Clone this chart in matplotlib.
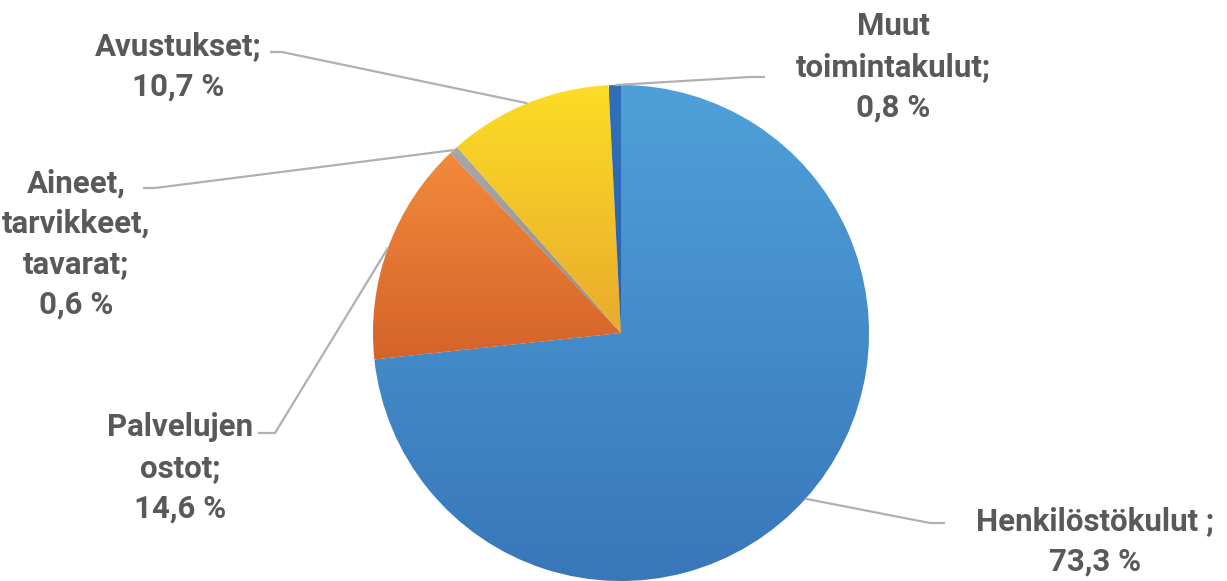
import numpy as np
import matplotlib
matplotlib.use("Agg")
import matplotlib.pyplot as plt
from matplotlib.colors import LinearSegmentedColormap

# ---- data ----
categories = ["Henkilöstökulut ;", "Palvelujen\nostot;", "Aineet,\ntarvikkeet,\ntavarat;",
              "Avustukset;", "Muut\ntoimintakulut;"]
values = [73.3, 14.6, 0.6, 10.7, 0.8]
value_labels = ["73,3 %", "14,6 %", "0,6 %", "10,7 %", "0,8 %"]

# ---- styles ----
grad_top = ["#4fa0d9", "#f38a3b", "#a8a8a8", "#fbdd25", "#3070bb"]
grad_bot = ["#3877ba", "#d4632a", "#8e8e8e", "#e9aa2d", "#2a62a8"]
text_color = "#595959"
line_color = "#b0b0b0"
FONT = ["Roboto", "DejaVu Sans"]

W, H = 1227, 581
fig = plt.figure(figsize=(W / 100, H / 100), dpi=100)
ax = fig.add_axes([0, 0, 1, 1])

def py(y):  # pixel-from-top -> data y
    return H - y

cx, cy, R = 621, py(333), 248
wedges, _ = ax.pie(values, startangle=90, counterclock=False, center=(cx, cy), radius=R,
                   colors=grad_top, wedgeprops=dict(edgecolor="white", linewidth=0.6))

# vertical gradients clipped to each wedge
for w, ct, cb in zip(wedges, grad_top, grad_bot):
    ext = w.get_path().get_extents()
    cmap = LinearSegmentedColormap.from_list("g", [cb, ct])
    g = np.linspace(0, 1, 256).reshape(-1, 1)
    im = ax.imshow(g, cmap=cmap, origin="lower", aspect="auto",
                   extent=[ext.x0, ext.x1, ext.y0, ext.y1], zorder=w.get_zorder() + 0.1,
                   interpolation="bilinear")
    im.set_clip_path(w)

# label layout (pixel positions, y from top): text center, elbow, line end near text
label_pos = [(1095, 541), (180, 468), (76, 244), (178, 66), (893, 67)]
elbows = [(930, 523), (275, 433), (155, 188), (282, 52), (750, 77)]
ends = [(945, 523), (258, 433), (143, 188), (270, 52), (765, 77)]

for w, cat, vl, (tx, ty), (ex, ey), (nx, ny) in zip(wedges, categories, value_labels,
                                                   label_pos, elbows, ends):
    mid = np.deg2rad((w.theta1 + w.theta2) / 2)
    ax_ = cx + R * np.cos(mid)
    ay_ = cy + R * np.sin(mid)
    ax.plot([ax_, ex, nx], [ay_, py(ey), py(ny)], color=line_color, lw=1.6,
            solid_capstyle="butt", zorder=5)
    ax.text(tx, py(ty), f"{cat}\n{vl}", ha="center", va="center", fontsize=22.5,
            fontweight="bold", color=text_color, family=FONT, linespacing=1.44, zorder=6)

ax.set_xlim(0, W)
ax.set_ylim(0, H)
ax.set_aspect("equal")
ax.axis("off")
fig.savefig("out.png", dpi=100)
